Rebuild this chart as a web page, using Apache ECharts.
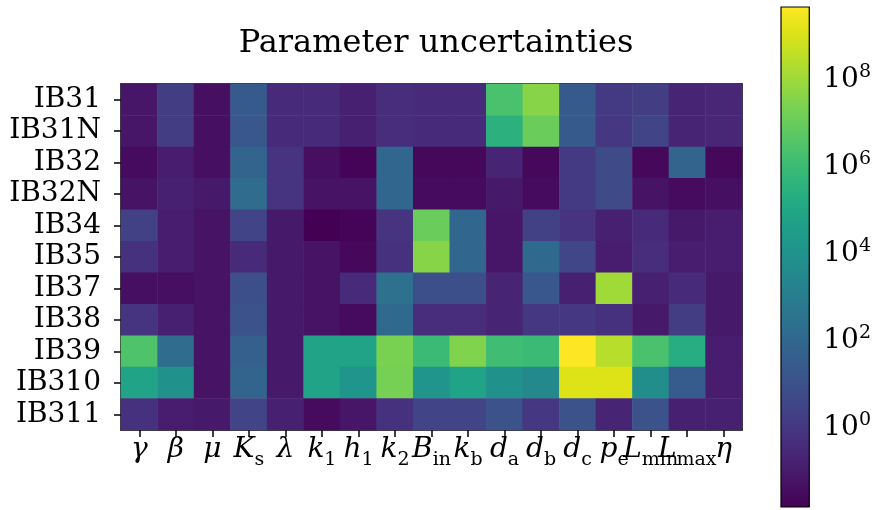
<!DOCTYPE html>
<html>
<head>
<meta charset="utf-8">
<script src="https://cdn.jsdelivr.net/npm/echarts@6/dist/echarts.min.js"></script>
<style>html,body{margin:0;padding:0;background:#fff;}#c{width:874px;height:510px;}</style>
</head>
<body>
<div id="c"></div>
<script>
// Rows (top to bottom) and parameter tick labels
const rowNames = ['IB31','IB31N','IB32','IB32N','IB34','IB35','IB37','IB38','IB39','IB310','IB311'];
const paramMain = ['γ','β','μ','K','λ','k','h','k','B','k','d','d','d','p','L','L','η'];
const paramSub  = ['', '', '', 's', '', '1','1','2','in','b','a','b','c','e','min','max',''];

// Uncertainty values per row, columns in the order of the parameter labels
const ib31  = [0.068, 1.6, 0.040, 23, 0.33, 0.33, 0.15, 0.43, 0.33, 0.33, 2.0e6, 3.6e7, 23, 1.2, 1.6, 0.19, 0.25];
const ib31n = [0.068, 1.6, 0.040, 17, 0.33, 0.33, 0.15, 0.43, 0.33, 0.33, 3.1e5, 9.8e6, 23, 0.95, 2.8, 0.19, 0.25];
const ib32  = [0.030, 0.11, 0.040, 66, 0.72, 0.040, 0.018, 85, 0.023, 0.023, 0.19, 0.023, 1.2, 4.7, 0.023, 66, 0.023];
const ib32n = [0.051, 0.15, 0.087, 140, 0.72, 0.051, 0.051, 85, 0.030, 0.030, 0.087, 0.030, 1.2, 4.7, 0.051, 0.030, 0.040];
const ib34  = [2.1, 0.11, 0.051, 2.8, 0.087, 0.014, 0.018, 0.72, 9.8e6, 85, 0.068, 2.1, 0.72, 0.15, 0.33, 0.087, 0.11];
const ib35  = [0.56, 0.11, 0.051, 0.33, 0.087, 0.051, 0.023, 0.56, 3.6e7, 85, 0.068, 110, 3.5, 0.11, 0.43, 0.11, 0.11];
const ib37  = [0.040, 0.040, 0.051, 7.9, 0.087, 0.051, 0.33, 250, 7.9, 7.9, 0.19, 17, 0.15, 1.0e8, 0.15, 0.33, 0.087];
const ib38  = [0.72, 0.15, 0.051, 10, 0.087, 0.051, 0.030, 110, 0.43, 0.43, 0.19, 0.95, 0.95, 0.56, 0.087, 1.6, 0.087];
const ib39  = [2.6e6, 140, 0.051, 39, 0.087, 6.3e4, 6.3e4, 2.1e7, 8.9e5, 2.8e7, 1.2e6, 8.9e5, 4.3e9, 2.3e8, 2.0e6, 1.8e5, 0.11];
const ib310 = [6.3e4, 7.8e3, 0.051, 66, 0.087, 6.3e4, 1.3e4, 1.7e7, 1.3e4, 6.3e4, 7.8e3, 3.5e3, 1.1e9, 1.1e9, 5.9e3, 30, 0.11];
const ib311 = [0.56, 0.11, 0.087, 2.8, 0.15, 0.030, 0.068, 0.56, 2.8, 2.8, 10, 0.95, 10, 0.19, 10, 0.15, 0.15];
const rowValues = [ib31, ib31n, ib32, ib32n, ib34, ib35, ib37, ib38, ib39, ib310, ib311];

// Colorbar tick exponents
const cbarExponents = [0, 2, 4, 6, 8];

const viridis = ['#440154','#471365','#482475','#463480','#414487','#3b528b','#355f8d','#2f6c8e','#2a788e','#25848e','#21918c','#1e9c89','#22a884','#2fb47c','#44bf70','#5ec962','#7ad151','#9bd93c','#bddf26','#dfe318','#fde725'];

const heatData = [];
let lo = Infinity, hi = -Infinity;
rowValues.forEach((row, yi) => row.forEach((v, xi) => {
  const l = Math.log10(v);
  lo = Math.min(lo, l); hi = Math.max(hi, l);
  heatData.push([xi, yi, l]);
}));

const FONT = 'DejaVu Serif';
const FS = 28;
const black = '#000';
const xLabels = paramMain.map((m, i) => m + '|' + paramSub[i]);

const chart = echarts.init(document.getElementById('c'), null, {renderer: 'canvas'});
chart.setOption({
  animation: false,
  backgroundColor: '#fff',
  title: {
    text: 'Parameter uncertainties',
    left: 431, top: 23, textAlign: 'center',
    textStyle: {fontFamily: FONT, fontWeight: 'normal', fontSize: 32, color: black}
  },
  grid: [
    {left: 121, top: 84, width: 621, height: 346, containLabel: false},
    {left: 781, top: 7, width: 29, height: 500, containLabel: false}
  ],
  xAxis: [
    {
      type: 'category', gridIndex: 0, position: 'bottom', data: xLabels,
      axisLine: {show: true, lineStyle: {color: black, width: 1.5}},
      axisTick: {show: true, alignWithLabel: true, length: 7, lineStyle: {color: black, width: 1.5}},
      splitLine: {show: false},
      axisLabel: {
        interval: 0, margin: 6, color: black,
        formatter: function (val) {
          const p = val.split('|');
          return '{m|' + p[0] + '}' + (p[1] ? '{s|' + p[1] + '}' : '');
        },
        rich: {
          m: {fontFamily: FONT, fontStyle: 'italic', fontSize: FS, color: black, verticalAlign: 'bottom', padding: [0, 0, 6, 0]},
          s: {fontFamily: FONT, fontSize: 19, color: black, verticalAlign: 'bottom'}
        }
      }
    },
    {
      type: 'category', gridIndex: 0, position: 'top', data: xLabels,
      axisLine: {show: true, lineStyle: {color: black, width: 1.5}},
      axisTick: {show: false}, axisLabel: {show: false}, splitLine: {show: false}
    },
    {type: 'value', gridIndex: 1, min: 0, max: 1, show: false}
  ],
  yAxis: [
    {
      type: 'category', gridIndex: 0, position: 'left', inverse: true, data: rowNames,
      axisLine: {show: true, lineStyle: {color: black, width: 1.5}},
      axisTick: {show: true, alignWithLabel: true, length: 7, lineStyle: {color: black, width: 1.5}},
      splitLine: {show: false},
      axisLabel: {interval: 0, margin: 20, color: black, fontFamily: FONT, fontSize: FS}
    },
    {
      type: 'category', gridIndex: 0, position: 'right', inverse: true, data: rowNames,
      axisLine: {show: true, lineStyle: {color: black, width: 1.5}},
      axisTick: {show: false}, axisLabel: {show: false}, splitLine: {show: false}
    },
    {
      type: 'value', gridIndex: 1, position: 'right', min: lo, max: hi,
      axisLine: {show: false},
      splitLine: {show: false},
      axisTick: {show: true, customValues: cbarExponents, length: 7, lineStyle: {color: black, width: 1.5}},
      axisLabel: {
        show: true, customValues: cbarExponents, margin: 14, color: black,
        formatter: function (v) { return '{b|10}{e|' + Math.round(v) + '}'; },
        rich: {
          b: {fontFamily: FONT, fontSize: FS, color: black, verticalAlign: 'bottom'},
          e: {fontFamily: FONT, fontSize: 19, color: black, verticalAlign: 'top', padding: [0, 0, 12, 0]}
        }
      }
    }
  ],
  visualMap: {
    type: 'continuous', show: false, seriesIndex: 0, dimension: 2,
    min: lo, max: hi, inRange: {color: viridis}
  },
  series: [
    {
      type: 'heatmap', xAxisIndex: 0, yAxisIndex: 0, data: heatData,
      itemStyle: {borderWidth: 0}, emphasis: {disabled: true}, z: 1
    },
    {
      type: 'custom', xAxisIndex: 2, yAxisIndex: 2, clip: false, silent: true,
      data: [[0, lo, 1, hi]],
      renderItem: function (params, api) {
        const p0 = api.coord([api.value(0), api.value(3)]);
        const p1 = api.coord([api.value(2), api.value(1)]);
        const stops = viridis.map((c, i) => ({offset: i / (viridis.length - 1), color: c}));
        return {
          type: 'rect',
          shape: {x: p0[0], y: p0[1], width: p1[0] - p0[0], height: p1[1] - p0[1]},
          style: {fill: new echarts.graphic.LinearGradient(0, 1, 0, 0, stops), stroke: black, lineWidth: 1.2}
        };
      }
    }
  ]
});
</script>
</body>
</html>
